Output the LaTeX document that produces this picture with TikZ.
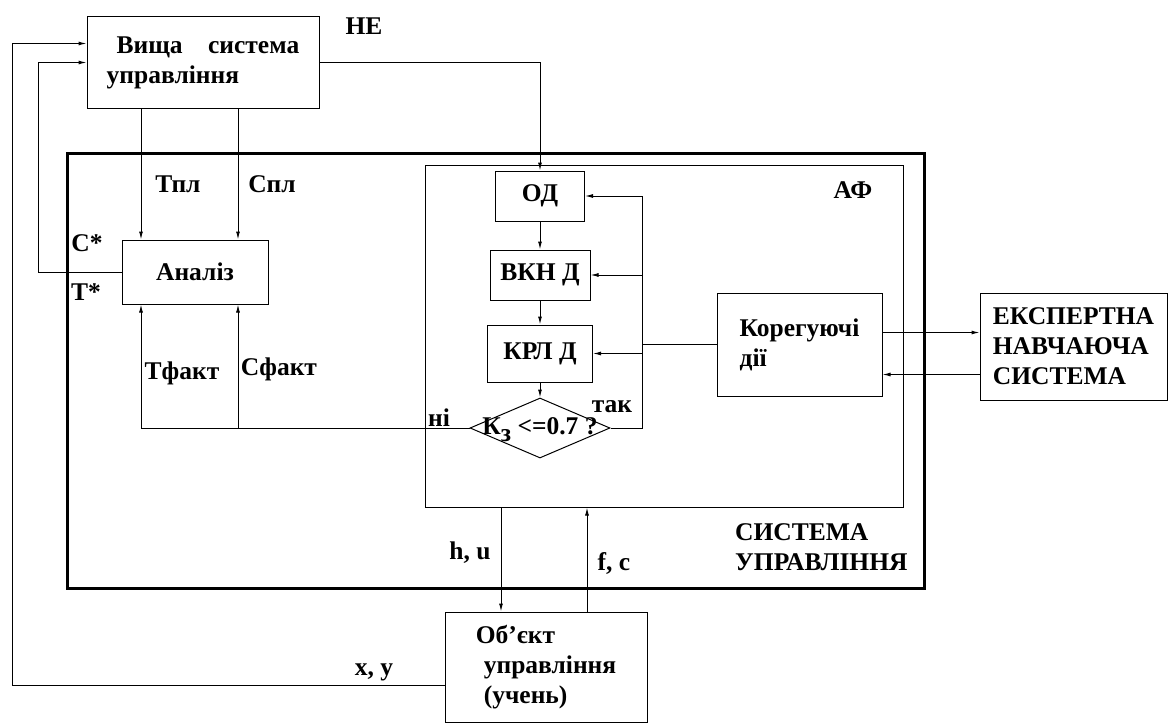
\documentclass[tikz,border=0pt]{standalone}
\usepackage{fontspec}
\setmainfont{Liberation Serif}
\usetikzlibrary{shapes.geometric,arrows.meta}
\tikzset{
  % --- blocks ----------------------------------------------------------------
  blk/.style={rectangle,draw,line width=1pt,inner sep=0pt,align=left,
              font=\bfseries\fontsize{25.5}{30}\selectfont},
  frm/.style={rectangle,draw,line width=1pt,inner sep=0pt},
  sysfrm/.style={frm,line width=3pt},
  cond/.style={diamond,draw,line width=1pt,inner sep=0pt,
               minimum width=140pt,minimum height=60pt},
  % --- signals ---------------------------------------------------------------
  sig/.style={-{Latex[length=8pt,width=4pt]},line width=1pt},
  wire/.style={line width=1pt},
  lab/.style={font=\bfseries\fontsize{25.5}{30}\selectfont,inner sep=0pt},
}
\begin{document}
\begin{tikzpicture}[x=1pt, y=-1pt]
  \useasboundingbox (0,0) rectangle (1168,725);

  % frames
  \node[sysfrm,minimum width=857pt,minimum height=435pt] (su)  at (495.5,370.5) {};
  \node[frm,minimum width=478pt,minimum height=342pt]    (af)  at (664,336)     {};

  % blocks
  \node[blk,minimum width=232pt,minimum height=91pt]  (top) at (203,62.5)
       {\hspace*{10pt}Вища\quad система\\управління};
  \node[blk,minimum width=146pt,minimum height=64pt]  (an)  at (195,272)   {Аналіз};
  \node[blk,minimum width=89pt,minimum height=50pt]   (od)  at (540,196)   {ОД};
  \node[blk,minimum width=100pt,minimum height=50pt]  (vkn) at (540,275)   {ВКН Д};
  \node[blk,minimum width=105pt,minimum height=57pt]  (krl) at (540,353.5) {КРЛ Д};
  \node[cond] (dec) at (540,428) {};
  \node[lab]  (decl) at (540,430) {К\raisebox{-7pt}{з} <=0.7 ?};
  \node[blk,minimum width=165pt,minimum height=103pt] (kor) at (799.5,344.5)
       {Корегуючі\\дії};
  \node[blk,minimum width=187pt,minimum height=107pt] (exp) at (1073.5,346.5)
       {ЕКСПЕРТНА\\НАВЧАЮЧА\\СИСТЕМА};
  \node[blk,minimum width=202pt,minimum height=110pt] (obj) at (546,667)
       {Об'єкт\\\hspace*{8pt}управління\hspace*{16pt}\\\hspace*{8pt}(учень)};

  % columns of the vertical lines
  \coordinate (lx1)  at (12,0);
  \coordinate (lx2)  at (38,0);
  \coordinate (tcol) at (141,0);
  \coordinate (scol) at (238,0);
  \coordinate (hux)  at (501,0);
  \coordinate (fcx)  at (587,0);
  \coordinate (fbx)  at (642,0);
  \coordinate (in1)  at ([yshift=19pt]top.west);

  % outer loops to the upper system
  \draw[sig] ([yshift=-18pt]obj.west) -| (lx1 |- in1) -- (in1);
  \draw[sig] (an.west) -| (lx2 |- top.west) -- (top.west);
  \draw[sig] (top.east) -| (od.north);

  % plan values and actual values
  \draw[sig] (top.south -| tcol) -- (an.north -| tcol);
  \draw[sig] (top.south -| scol) -- (an.north -| scol);
  \draw[sig] (dec.west) -| (an.south -| tcol);
  \draw[sig] (dec.west -| scol) -- (an.south -| scol);

  % chain inside AF
  \draw[sig] (od) -- (vkn);
  \draw[sig] (vkn) -- (krl);
  \draw[sig] (krl) -- (dec);
  \draw[sig] (dec.east) -| (od.east -| fbx) -- (od.east);
  \draw[sig] (vkn.east -| fbx) -- (vkn.east);
  \draw[sig] (krl.east -| fbx) -- (krl.east);
  \draw[wire] (kor.west) -- (kor.west -| fbx);

  % expert system
  \draw[sig] ([yshift=12pt]kor.east) -- ([yshift=12pt]kor.east -| exp.west);
  \draw[sig] ([yshift=-30pt]kor.east -| exp.west) -- ([yshift=-30pt]kor.east);

  % object of control
  \draw[sig] (af.south -| hux) -- (obj.north -| hux);
  \draw[sig] (obj.north -| fcx) -- (af.south -| fcx);

  % labels
  \node[lab] (lne)  at (364,26)  {НЕ};
  \node[lab] (ltp)  at (178,184) {Тпл};
  \node[lab] (lsp)  at (272,184) {Спл};
  \node[lab] (lcs)  at (87,243)  {С*};
  \node[lab] (lts)  at (86,292)  {Т*};
  \node[lab] (ltf)  at (182,373) {Тфакт};
  \node[lab] (lsf)  at (279,369) {Сфакт};
  \node[lab] (lni)  at (439,418) {ні};
  \node[lab] (ltak) at (612,407) {так};
  \node[lab] (laf)  at (853,190) {АФ};
  \node[lab] (lhu)  at (470,553) {h, u};
  \node[lab] (lfc)  at (614,563) {f, c};
  \node[lab] (lxy)  at (374,672) {x, y};
  \node[lab,align=left,anchor=west] (lsu) at (735,547) {СИСТЕМА\\УПРАВЛІННЯ};
\end{tikzpicture}
\end{document}
